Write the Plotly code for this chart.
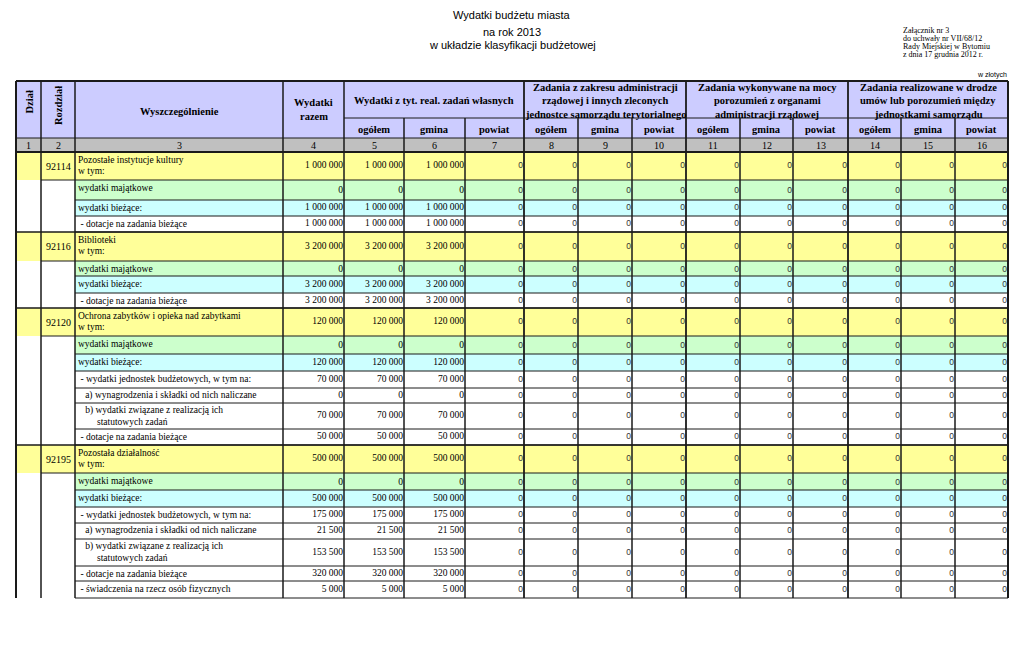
import plotly.graph_objects as go

# ---------------- data ----------------
rozdzial = ["92114", "", "", "", "92116", "", "", "", "92120", "", "", "", "", "", "",
            "92195", "", "", "", "", "", "", ""]

labels = [
    "Pozostałe instytucje kultury<br>w tym:",
    "wydatki majątkowe",
    "wydatki bieżące:",
    " - dotacje na zadania bieżące",
    "Biblioteki<br>w tym:",
    "wydatki majątkowe",
    "wydatki bieżące:",
    " - dotacje na zadania bieżące",
    "Ochrona zabytków i opieka nad zabytkami<br>w tym:",
    "wydatki majątkowe",
    "wydatki bieżące:",
    " - wydatki jednostek budżetowych, w tym na:",
    "\u00a0\u00a0\u00a0a) wynagrodzenia i składki od nich naliczane",
    "\u00a0\u00a0\u00a0b) wydatki związane z realizacją ich<br>\u00a0\u00a0\u00a0\u00a0\u00a0\u00a0\u00a0\u00a0statutowych zadań",
    " - dotacje na zadania bieżące",
    "Pozostała działalność<br>w tym:",
    "wydatki majątkowe",
    "wydatki bieżące:",
    " - wydatki jednostek budżetowych, w tym na:",
    "\u00a0\u00a0\u00a0a) wynagrodzenia i składki od nich naliczane",
    "\u00a0\u00a0\u00a0b) wydatki związane z realizacją ich<br>\u00a0\u00a0\u00a0\u00a0\u00a0\u00a0\u00a0\u00a0statutowych zadań",
    " - dotacje na zadania bieżące",
    " - świadczenia na rzecz osób fizycznych",
]

row_kind = ["y", "g", "c", "w", "y", "g", "c", "w", "y", "g", "c", "w", "w", "w", "w",
            "y", "g", "c", "w", "w", "w", "w", "w"]

wydatki_razem = [1000000, 0, 1000000, 1000000, 3200000, 0, 3200000, 3200000,
                 120000, 0, 120000, 70000, 0, 70000, 50000,
                 500000, 0, 500000, 175000, 21500, 153500, 320000, 5000]
wlasne_ogolem = [1000000, 0, 1000000, 1000000, 3200000, 0, 3200000, 3200000,
                 120000, 0, 120000, 70000, 0, 70000, 50000,
                 500000, 0, 500000, 175000, 21500, 153500, 320000, 5000]
wlasne_gmina = [1000000, 0, 1000000, 1000000, 3200000, 0, 3200000, 3200000,
                120000, 0, 120000, 70000, 0, 70000, 50000,
                500000, 0, 500000, 175000, 21500, 153500, 320000, 5000]
wlasne_powiat = [0, 0, 0, 0, 0, 0, 0, 0, 0, 0, 0, 0, 0, 0, 0, 0, 0, 0, 0, 0, 0, 0, 0]
zlecone_ogolem = [0, 0, 0, 0, 0, 0, 0, 0, 0, 0, 0, 0, 0, 0, 0, 0, 0, 0, 0, 0, 0, 0, 0]
zlecone_gmina = [0, 0, 0, 0, 0, 0, 0, 0, 0, 0, 0, 0, 0, 0, 0, 0, 0, 0, 0, 0, 0, 0, 0]
zlecone_powiat = [0, 0, 0, 0, 0, 0, 0, 0, 0, 0, 0, 0, 0, 0, 0, 0, 0, 0, 0, 0, 0, 0, 0]
porozumienia_ogolem = [0, 0, 0, 0, 0, 0, 0, 0, 0, 0, 0, 0, 0, 0, 0, 0, 0, 0, 0, 0, 0, 0, 0]
porozumienia_gmina = [0, 0, 0, 0, 0, 0, 0, 0, 0, 0, 0, 0, 0, 0, 0, 0, 0, 0, 0, 0, 0, 0, 0]
porozumienia_powiat = [0, 0, 0, 0, 0, 0, 0, 0, 0, 0, 0, 0, 0, 0, 0, 0, 0, 0, 0, 0, 0, 0, 0]
umowy_ogolem = [0, 0, 0, 0, 0, 0, 0, 0, 0, 0, 0, 0, 0, 0, 0, 0, 0, 0, 0, 0, 0, 0, 0]
umowy_gmina = [0, 0, 0, 0, 0, 0, 0, 0, 0, 0, 0, 0, 0, 0, 0, 0, 0, 0, 0, 0, 0, 0, 0]
umowy_powiat = [0, 0, 0, 0, 0, 0, 0, 0, 0, 0, 0, 0, 0, 0, 0, 0, 0, 0, 0, 0, 0, 0, 0]

group_headers = [
    "Wydatki z tyt. real. zadań własnych",
    "Zadania z zakresu administracji<br>rządowej i innych zleconych<br>jednostce samorządu terytorialnego",
    "Zadania wykonywane na mocy<br>porozumień z organami<br>administracji rządowej",
    "Zadania realizowane w drodze<br>umów lub porozumień między<br>jednostkami samorządu",
]
sub_headers = ["ogółem", "gmina", "powiat"]
column_numbers = [str(i) for i in range(1, 17)]

title_lines = ["Wydatki budżetu miasta", "na rok 2013", "w układzie klasyfikacji budżetowej"]
note_lines = ["Załącznik nr 3", "do uchwały nr VII/68/12", "Rady Miejskiej w Bytomiu",
              "z dnia 17 grudnia 2012 r."]
unit_note = "w złotych"

# ---------------- layout / style ----------------
W, H = 1024, 662
BODY_MARGIN = 8  # default page margin around the plot div
col_edges = [16, 41, 75, 283, 344, 404, 465, 524, 578, 632, 686, 740, 793, 848, 901, 955, 1008]
row_edges = [152, 180, 200, 216, 232, 261, 276, 293, 308, 336, 354, 371, 388, 403, 429,
             445, 473, 490, 507, 523, 539, 566, 581, 598]
HEAD_TOP, HEAD_MID, HEAD_SUB, NUM_BOT = 81, 118, 138, 152
fill = {"y": "#FFFF99", "g": "#CCFFCC", "c": "#CCFFFF", "w": "#FFFFFF"}
HEADER_BG = "#CCCCFF"
NUM_BG = "#C0C0C0"
SERIF = "Liberation Serif, Times New Roman, serif"
SANS = "Liberation Sans, Arial, sans-serif"
LINE = "#1a1a1a"

shapes = []
annotations = []


def rect(x0, x1, y0, y1, color):
    shapes.append(dict(type="rect", xref="x", yref="y", x0=x0, x1=x1, y0=y0, y1=y1,
                       fillcolor=color, line=dict(width=0), layer="below"))


def line(x0, y0, x1, y1, w=1.0, color=LINE):
    shapes.append(dict(type="line", xref="x", yref="y", x0=x0, x1=x1, y0=y0, y1=y1,
                       line=dict(width=w, color=color), layer="above"))


def text(x, y, s, size=10, family=SERIF, color="#000", xanchor="center",
         yanchor="middle", bold=False, angle=0):
    if bold:
        s = "<b>" + s + "</b>"
    annotations.append(dict(x=x, y=y, xref="x", yref="y", text=s, showarrow=False,
                            font=dict(size=size, family=family, color=color),
                            xanchor=xanchor, yanchor=yanchor, textangle=angle,
                            borderpad=0))


L, R = col_edges[0], col_edges[-1]
rect(L, R, HEAD_TOP, HEAD_SUB, HEADER_BG)
rect(L, R, HEAD_SUB, NUM_BOT, NUM_BG)

for i, k in enumerate(row_kind):
    y0, y1 = row_edges[i], row_edges[i + 1]
    rect(col_edges[2], R, y0, y1, fill[k])
    if k == "y":
        rect(L, col_edges[2], y0, y1, fill[k])

BOT = row_edges[-1]
line(L, HEAD_TOP, R, HEAD_TOP, 2)
line(col_edges[4], HEAD_MID, R, HEAD_MID, 1)
line(L, HEAD_SUB, R, HEAD_SUB, 1)
line(L, NUM_BOT, R, NUM_BOT, 2)
for i, k in enumerate(row_kind):
    y0, y1 = row_edges[i], row_edges[i + 1]
    if k == "y":
        line(L, y0, R, y0, 1.6 if i else 2)
        line(col_edges[1], y1, R, y1, 1)
    else:
        line(col_edges[2], y1, R, y1, 1)

line(L, HEAD_TOP, L, BOT, 2)
line(R, HEAD_TOP, R, BOT, 2)
for j in [1, 2, 3, 4]:
    line(col_edges[j], HEAD_TOP, col_edges[j], BOT, 1.5)
for j in [7, 10, 13]:
    line(col_edges[j], HEAD_TOP, col_edges[j], BOT, 1.8)
for j in [5, 6, 8, 9, 11, 12, 14, 15]:
    line(col_edges[j], HEAD_MID, col_edges[j], BOT, 1.5)


def cx(a, b):
    return (col_edges[a] + col_edges[b]) / 2


text(cx(0, 1), 102, "Dział", 10.5, bold=True, angle=-90)
text(cx(1, 2), 106, "Rozdział", 10.5, bold=True, angle=-90)
text(cx(2, 3), 111, "Wyszczególnienie", 10.5, bold=True)
text(cx(3, 4), 102, "Wydatki", 10.5, bold=True)
text(cx(3, 4), 116, "razem", 10.5, bold=True)
for g, gh in enumerate(group_headers):
    a, b = 4 + 3 * g, 7 + 3 * g
    parts = gh.split("<br>")
    if len(parts) == 1:
        text(cx(a, b), 100, parts[0], 10.5, bold=True)
    else:
        for li, p in enumerate(parts):
            text(cx(a, b), 87 + 13.5 * li, p, 10.5, bold=True)
    for s, sh in enumerate(sub_headers):
        text(cx(a + s, a + s + 1), 129, sh, 10.5, bold=True)
for j, n in enumerate(column_numbers):
    text(cx(j, j + 1), 145.5, n, 10)

for i, lab in enumerate(labels):
    y0, y1 = row_edges[i], row_edges[i + 1]
    for li, p in enumerate(lab.split("<br>")):
        text(col_edges[2] + 2, y0 + 7.5 + 11.5 * li, p, 9.5, xanchor="left")
    if rozdzial[i]:
        text(cx(1, 2), (y0 + y1) / 2, rozdzial[i], 10)

for t, y in zip(title_lines, [15, 32, 45]):
    text(512, y, t, 11, family=SANS)
for li, t in enumerate(note_lines):
    text(902, 30 + 8 * li, t, 8, xanchor="left")
text(R, 75, unit_note, 7, family=SANS, xanchor="right")

row_centers = [(row_edges[i] + row_edges[i + 1]) / 2 + (1 if row_kind[i] == "g" else 0)
               for i in range(len(row_kind))]


def fmt(v):
    return f"{v:,}".replace(",", " ")


serif_cols = [wydatki_razem, wlasne_ogolem, wlasne_gmina]
sans_cols = [wlasne_powiat, zlecone_ogolem, zlecone_gmina, zlecone_powiat,
             porozumienia_ogolem, porozumienia_gmina, porozumienia_powiat,
             umowy_ogolem, umowy_gmina, umowy_powiat]

fig = go.Figure()
for k, vals in enumerate(serif_cols):
    xr = col_edges[4 + k] - 1
    fig.add_trace(go.Scatter(x=[xr] * len(vals), y=row_centers, mode="text",
                             text=[fmt(v) for v in vals], textposition="middle left",
                             textfont=dict(family=SERIF, size=9.5, color="#000"),
                             hoverinfo="skip", showlegend=False))
for k, vals in enumerate(sans_cols):
    xr = col_edges[7 + k] - 1
    fig.add_trace(go.Scatter(x=[xr] * len(vals), y=row_centers, mode="text",
                             text=[fmt(v) for v in vals], textposition="middle left",
                             textfont=dict(family=SANS, size=8.5, color="#333"),
                             hoverinfo="skip", showlegend=False))

# the page puts the plot 8px in from the top-left corner; shrink and shift the
# axes so that one axis unit equals one screen pixel of the 1024x662 window
fig.update_layout(
    width=W - 2 * BODY_MARGIN, height=H - 2 * BODY_MARGIN,
    margin=dict(l=0, r=0, t=0, b=0),
    paper_bgcolor="white", plot_bgcolor="white",
    xaxis=dict(range=[BODY_MARGIN, W - BODY_MARGIN], visible=False, fixedrange=True),
    yaxis=dict(range=[H - BODY_MARGIN, BODY_MARGIN], visible=False, fixedrange=True),
    shapes=shapes, annotations=annotations, showlegend=False,
)
fig.write_html("out.html", config={"displayModeBar": False})
